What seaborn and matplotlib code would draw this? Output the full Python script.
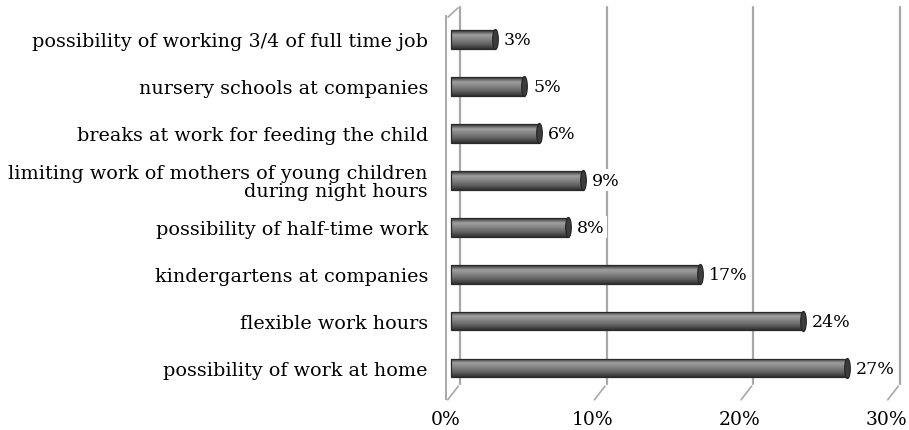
import numpy as np
import pandas as pd
import matplotlib
matplotlib.use('Agg')
import matplotlib.pyplot as plt
import matplotlib.transforms as mtransforms
from matplotlib.colors import LinearSegmentedColormap
from matplotlib.path import Path
import seaborn as sns

# data (top to bottom)
measures = [
    'possibility of working 3/4 of full time job',
    'nursery schools at companies',
    'breaks at work for feeding the child',
    'limiting work of mothers of young children\nduring night hours',
    'possibility of half-time work',
    'kindergartens at companies',
    'flexible work hours',
    'possibility of work at home',
]
shares = [3, 5, 6, 9, 8, 17, 24, 27]
x_ticks = [0, 10, 20, 30]
x_labels = ['0%', '10%', '20%', '30%']

df = pd.DataFrame({'measure': measures, 'share': shares})

sns.set_style('white')
plt.rcParams['font.family'] = ['DejaVu Serif']
plt.rcParams['text.color'] = 'black'
plt.rcParams['xtick.color'] = 'black'
plt.rcParams['ytick.color'] = 'black'

W, H = 909, 431
fig = plt.figure(figsize=(W / 100, H / 100), dpi=100)
# axes placed in pixel terms: front 0% at x=446, 30% at x=886
ax = fig.add_axes([446 / W, (H - 400) / H, (886 - 446) / W, (400 - 17) / H])

sns.barplot(data=df, x='share', y='measure', orient='h', ax=ax,
            width=0.4, color='#6a6a6a', edgecolor='#2a2a2a', linewidth=0.9)

ax.set_xlim(0, 30)
ax.set_ylim(7.66, -0.5)
ax.set_xlabel('')
ax.set_ylabel('')

# shift bars a little into the "depth" of the pseudo 3D box
bar_shift = mtransforms.ScaledTranslation(5 / 100, 0, fig.dpi_scale_trans)
grad_cmap = LinearSegmentedColormap.from_list(
    'cyl', ['#2c2c2c', '#a0a0a0', '#828282', '#606060', '#303030'])
grad = np.linspace(0, 1, 64).reshape(-1, 1)
for p in list(ax.patches):
    p.set_transform(ax.transData + bar_shift)
    x0, y0 = p.get_x(), p.get_y()
    w, h = p.get_width(), p.get_height()
    im = ax.imshow(grad, cmap=grad_cmap, aspect='auto',
                   extent=[x0, x0 + w, y0 + h, y0], zorder=p.get_zorder() + 0.1,
                   transform=ax.transData + bar_shift)
    im.set_clip_path(p)
    p.set_facecolor('none')
    p.set_zorder(p.get_zorder() + 0.2)
ax.set_xlim(0, 30)
ax.set_ylim(7.66, -0.5)

# rounded cylinder end caps
cap = Path(Path.unit_circle().vertices * [0.28, 1.0], Path.unit_circle().codes)
ax.plot(shares, range(len(shares)), ls='none', marker=cap, markersize=14.5,
        mfc='#3c3c3c', mec='#222222', mew=0.8, transform=ax.transData + bar_shift,
        zorder=3)

# back wall gridlines
back = ax.get_xaxis_transform() + mtransforms.ScaledTranslation(14 / 100, 15 / 100, fig.dpi_scale_trans)
for t in x_ticks:
    ax.plot([t, t], [0, 0.985], color='#a8a8a8', lw=1.6, transform=back, clip_on=False, zorder=0)
base_y = ax.transAxes.transform((0, 0))[1]
for t in x_ticks:
    xa = ax.transData.transform((t, 0))[0]
    ax.annotate('', xy=(xa + 14, base_y + 15), xytext=(xa, base_y - 3),
                xycoords='figure pixels', textcoords='figure pixels',
                arrowprops=dict(arrowstyle='-', color='#a8a8a8', lw=1.2))
top_y = ax.transAxes.transform((0, 1))[1]
left_x = ax.transAxes.transform((0, 0))[0]
ax.annotate('', xy=(left_x + 14, top_y + 10), xytext=(left_x, top_y - 3),
            xycoords='figure pixels', textcoords='figure pixels',
            arrowprops=dict(arrowstyle='-', color='#a8a8a8', lw=1.2))

for s in ['top', 'right', 'bottom']:
    ax.spines[s].set_visible(False)
ax.spines['left'].set_color('#a8a8a8')
ax.spines['left'].set_linewidth(1.4)

ax.set_xticks(x_ticks)
ax.set_xticklabels(x_labels, fontsize=13.5)
ax.tick_params(axis='x', length=0, pad=8)
ax.tick_params(axis='y', length=0, pad=13, labelsize=13.8)
for lab in ax.get_yticklabels():
    lab.set_linespacing(0.95)
ax.set_yticks(np.arange(-0.5, 8, 1), minor=True)
ax.tick_params(axis='y', which='minor', length=4, color='#a8a8a8', width=1.2)

for i, v in enumerate(shares):
    ax.annotate(f'{v}%', xy=(v, i), xytext=(10, 0), textcoords='offset points',
                va='center', ha='left', fontsize=12.5,
                bbox=dict(boxstyle='square,pad=0.15', fc='white', ec='none'),
                zorder=5)

fig.savefig('out.png', dpi=100)
